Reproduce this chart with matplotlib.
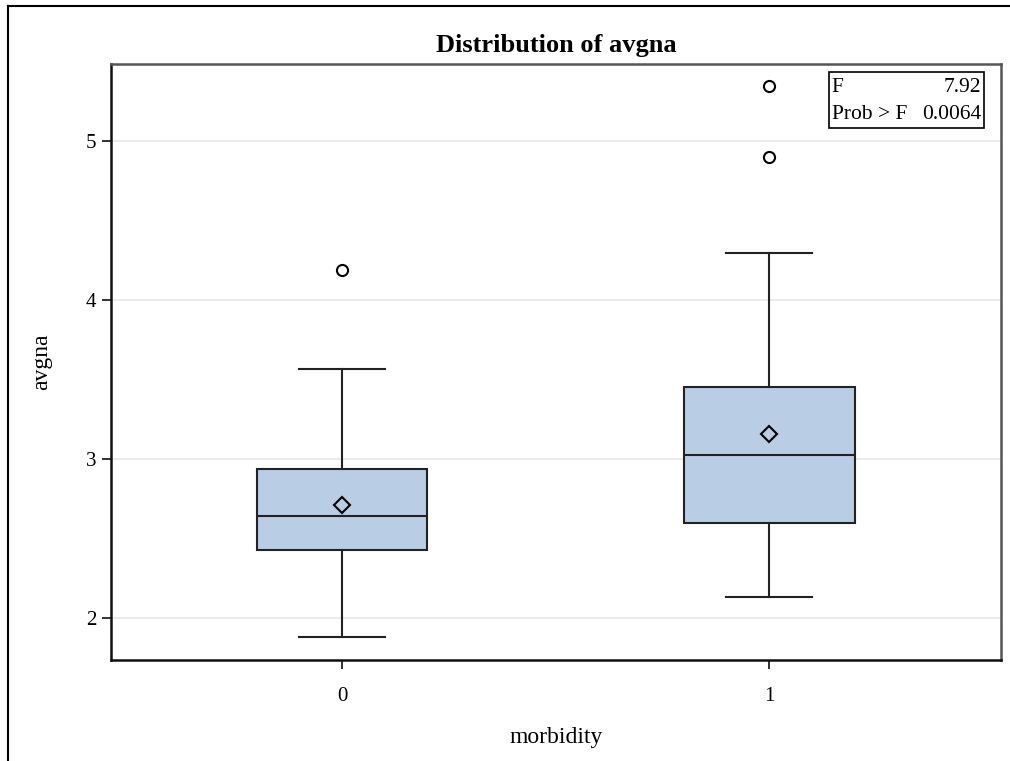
import matplotlib.pyplot as plt
from matplotlib.lines import Line2D
from matplotlib.patches import Rectangle

# Data
groups = ["0", "1"]
whislo = [1.88, 2.13]
q1 = [2.43, 2.60]
med = [2.64, 3.025]
mean = [2.71, 3.16]
q3 = [2.94, 3.45]
whishi = [3.565, 4.295]
fliers = [[4.19], [4.90, 5.346]]
stat_names = ["F", "Prob > F"]
stat_values = ["7.92", "0.0064"]

plt.rcParams['font.family'] = ['Liberation Serif', 'DejaVu Serif']

fig = plt.figure(figsize=(10.1, 7.61), dpi=100)
ax = fig.add_axes([0.1099, 0.1327, 0.8812, 0.7832])

stats = []
for i in range(len(groups)):
    stats.append(dict(whislo=whislo[i], q1=q1[i], med=med[i], mean=mean[i],
                      q3=q3[i], whishi=whishi[i], fliers=fliers[i]))

fill = '#b9cde5'
ax.bxp(stats, positions=range(len(groups)), widths=0.4, patch_artist=True,
       showmeans=True,
       boxprops=dict(facecolor=fill, edgecolor='#222222', linewidth=1.5),
       medianprops=dict(color='#222222', linewidth=1.5),
       whiskerprops=dict(color='#222222', linewidth=1.5),
       capprops=dict(color='#222222', linewidth=1.5),
       capwidths=0.2,
       meanprops=dict(marker='D', markerfacecolor='none', markeredgecolor='black',
                      markersize=8.5, markeredgewidth=1.5),
       flierprops=dict(marker='o', markerfacecolor='none', markeredgecolor='black',
                       markersize=8, markeredgewidth=1.5))

ax.set_xlim(-0.541, 1.543)
ax.set_ylim(1.736, 5.484)
ax.set_yticks([2, 3, 4, 5])
ax.set_xticks(range(len(groups)))
ax.set_xticklabels(groups)
ax.yaxis.grid(True, color='#ebebeb', linewidth=1.5)
ax.set_axisbelow(True)

ax.tick_params(axis='both', direction='out', length=6.5, width=1.3,
               labelsize=15, color='#222222', pad=4)
ax.tick_params(axis='x', pad=13)
for side in ['left', 'bottom']:
    ax.spines[side].set_linewidth(1.8)
    ax.spines[side].set_color('#111111')
for side in ['top', 'right']:
    ax.spines[side].set_linewidth(1.8)
    ax.spines[side].set_color('#555555')

ax.set_xlabel('morbidity', fontsize=17, labelpad=15)
ax.set_ylabel('avgna', fontsize=17, labelpad=24)
ax.set_title('Distribution of avgna', fontsize=19, fontweight='bold', pad=9)

# statistics inset
ax.add_patch(Rectangle((0.8067, 0.8926), 0.1743, 0.094, transform=ax.transAxes,
                       facecolor='white', edgecolor='black', linewidth=1.2,
                       zorder=5))
for k, (name, val) in enumerate(zip(stat_names, stat_values)):
    yy = 0.960 - k * 0.045
    ax.text(0.810, yy, name, transform=ax.transAxes, fontsize=15.5,
            ha='left', va='center', zorder=6)
    ax.text(0.9775, yy, val, transform=ax.transAxes, fontsize=15.5,
            ha='right', va='center', zorder=6)

# outer frame of the graph
fig.add_artist(Line2D([8 / 1010, 8 / 1010], [0, 1 - 6 / 761], color='black',
                      linewidth=1.5, transform=fig.transFigure))
fig.add_artist(Line2D([8 / 1010, 1], [1 - 6 / 761, 1 - 6 / 761], color='black',
                      linewidth=1.5, transform=fig.transFigure))

fig.savefig('out.png', dpi=100)
